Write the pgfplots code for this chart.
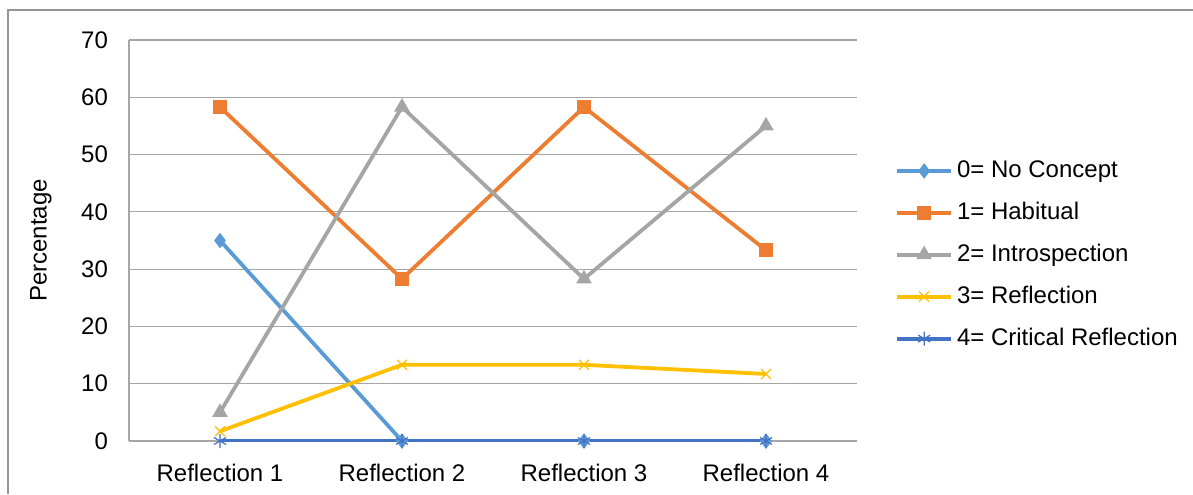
\documentclass[border=0pt]{standalone}
\usepackage{pgfplots}
\pgfplotsset{compat=1.18}
\usepackage{fontspec}
\setmainfont{Liberation Sans}
\usetikzlibrary{plotmarks}

\definecolor{cNone}{HTML}{5B9BD5}
\definecolor{cHab}{HTML}{ED7D31}
\definecolor{cIntro}{HTML}{A5A5A5}
\definecolor{cRefl}{HTML}{FFC000}
\definecolor{cCrit}{HTML}{4472C4}
\definecolor{gridgray}{HTML}{A6A6A6}

\begin{document}
\begin{tikzpicture}
\useasboundingbox (0,0) rectangle (596.5pt,247pt);
% outer chart frame (only top and left edges fall inside the image)
\draw[color=gridgray!90!black, line width=0.7pt] (4pt,0pt) -- (4pt,242pt) -- (596.5pt,242pt);
\begin{axis}[
    at={(64.5pt,26.5pt)}, anchor=south west,
    scale only axis,
    width=364pt, height=200.5pt,
    xmin=-0.5, xmax=3.5,
    ymin=0, ymax=70,
    xtick={0,1,2,3},
    xticklabels={Reflection 1, Reflection 2, Reflection 3, Reflection 4},
    ytick={0,10,...,70},
    ymajorgrids,
    grid style={gridgray, line width=0.6pt},
    axis x line*=bottom, axis y line*=left,
    axis line style={gridgray, line width=0.6pt, -},
    major tick length=0pt,
    tick label style={font=\fontsize{12}{14}\selectfont},
    /pgf/number format/assume math mode=true,
    yticklabel style={xshift=-7pt},
    xticklabel style={yshift=-8pt},
    ylabel={Percentage},
    label style={font=\fontsize{12}{14}\selectfont},
    ylabel style={yshift=8pt},
    legend cell align=left,
    legend style={draw=none, fill=none, at={(1.052,0.464)}, anchor=west,
        font=\fontsize{12}{14}\selectfont, row sep=6.8pt,
        inner xsep=0pt, inner ysep=0pt},
    legend image code/.code={%
        \draw[mark repeat=2, mark phase=2, #1]
            plot coordinates {(0pt,0pt) (13.5pt,0pt) (27pt,0pt)};},
    every axis plot/.append style={line width=1.9pt},
]
\addplot[color=cNone, mark=diamond*, mark size=3.5pt, mark options={solid, line width=0.5pt}]
    coordinates {(0,35) (1,0) (2,0) (3,0)};
\addlegendentry{0= No Concept}
\addplot[color=cHab, mark=square*, mark size=3.3pt, mark options={solid, line width=0.5pt}]
    coordinates {(0,58.3) (1,28.3) (2,58.3) (3,33.3)};
\addlegendentry{1= Habitual}
\addplot[color=cIntro, mark=triangle*, mark size=4pt, mark options={solid, line width=0.5pt}]
    coordinates {(0,5) (1,58.3) (2,28.3) (3,55)};
\addlegendentry{2= Introspection}
\addplot[color=cRefl, mark=x, mark size=3.5pt, mark options={solid, line width=0.6pt}]
    coordinates {(0,1.7) (1,13.3) (2,13.3) (3,11.7)};
\addlegendentry{3= Reflection}
\addplot[color=cCrit, mark=asterisk, mark size=3.5pt, mark options={solid, line width=0.6pt}]
    coordinates {(0,0) (1,0) (2,0) (3,0)};
\addlegendentry{4= Critical Reflection}
\end{axis}
\end{tikzpicture}
\end{document}
